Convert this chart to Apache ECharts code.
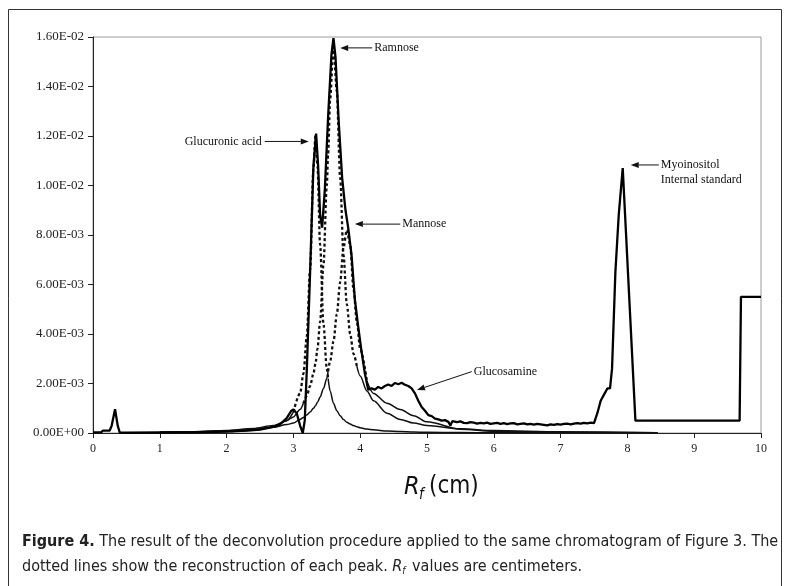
<!DOCTYPE html>
<html><head><meta charset="utf-8">
<script src="https://cdn.jsdelivr.net/npm/echarts@6/dist/echarts.min.js"></script>
<style>html,body{margin:0;padding:0;background:#fff}#c{width:791px;height:586px}</style>
</head><body><div id="c"></div>
<script>
// ---- data ----
const xTicks = [0,1,2,3,4,5,6,7,8,9,10];
const yTicks = [0,0.002,0.004,0.006,0.008,0.010,0.012,0.014,0.016];

// measured chromatogram  [Rf (cm), signal]
const mainTrace = [
 [0.0,0.00002],[0.12,0.00003],[0.15,0.0001],[0.25,0.0001],[0.28,0.0003],[0.33,0.00096],[0.37,0.0003],[0.40,0.00002],
 [0.5,0.00001],[1.0,0.00002],[1.5,0.00003],[2.0,0.00006],[2.3,0.0001],[2.5,0.00014],[2.7,0.00025],[2.8,0.00035],
 [2.9,0.0006],[2.97,0.0009],[3.0,0.00095],[3.05,0.0008],[3.1,0.0003],[3.14,0.0],[3.17,0.0005],[3.2,0.0025],
 [3.25,0.0065],[3.3,0.0108],[3.34,0.0121],[3.37,0.0108],[3.4,0.0088],[3.43,0.0083],[3.47,0.0098],[3.52,0.0128],
 [3.57,0.0153],[3.6,0.01595],[3.63,0.0152],[3.68,0.0125],[3.73,0.0103],[3.78,0.0090],[3.82,0.0083],[3.87,0.0072],
 [3.92,0.0054],[3.97,0.0043],[4.02,0.0033],[4.07,0.0024],[4.12,0.00175],[4.17,0.0018],[4.22,0.00175],[4.27,0.00186],
 [4.32,0.0018],[4.37,0.0019],[4.42,0.00196],[4.47,0.0019],[4.52,0.00202],[4.57,0.00197],[4.62,0.00203],[4.67,0.00195],
 [4.72,0.0019],[4.77,0.0018],[4.82,0.0016],[4.87,0.0013],[4.92,0.00105],[4.97,0.0009],[5.02,0.00072],[5.07,0.00068],
 [5.12,0.00058],[5.17,0.00055],[5.22,0.0005],[5.27,0.00052],[5.32,0.00045],[5.35,0.0003],[5.38,0.00048],[5.45,0.00044],
 [5.5,0.00047],[5.55,0.00041],[5.6,0.0004],[5.65,0.00044],[5.7,0.00042],[5.75,0.00038],[5.8,0.00041],[5.85,0.00039],
 [5.9,0.00042],[5.95,0.00037],[6.0,0.00039],[6.05,0.00041],[6.1,0.00037],[6.15,0.0004],[6.2,0.00036],[6.25,0.00039],
 [6.3,0.0004],[6.35,0.00035],[6.4,0.00037],[6.45,0.00039],[6.5,0.00035],[6.55,0.00037],[6.6,0.00034],[6.65,0.00037],
 [6.7,0.00035],[6.75,0.00033],[6.8,0.00031],[6.85,0.00035],[6.9,0.00033],[6.95,0.00036],[7.0,0.00034],[7.05,0.00037],
 [7.1,0.00038],[7.15,0.00035],[7.2,0.00038],[7.25,0.0004],[7.3,0.00038],[7.35,0.00041],[7.4,0.00039],[7.45,0.00042],
 [7.5,0.0004],[7.55,0.0008],[7.6,0.0013],[7.65,0.00155],[7.7,0.0018],[7.74,0.0018],[7.77,0.0026],[7.82,0.0065],
 [7.87,0.0088],[7.93,0.0107],[8.12,0.0005],[9.68,0.0005],[9.7,0.0055],[10.0,0.0055]
];

// reconstructed peaks (shared Rf grid)
const compX = [1.0,1.5,2.0,2.4,2.7,2.9,3.0,3.1,3.15,3.2,3.25,3.3,3.33,3.36,3.4,3.45,3.5,3.52,3.55,3.6,3.65,3.7,3.75,3.8,3.85,3.9,3.95,4.0,4.1,4.2,4.4,4.6,4.8,5.0,5.5,6.0,7.0,8.45];
const glucuronic = [0.00001,0.00002,0.00006,0.00011,0.00024,0.0005,0.00085,0.0016,0.0024,0.0039,0.0066,0.0107,0.0120,0.0108,0.0076,0.0044,0.0026,0.0022,0.0017,0.0012,0.0009,0.0007,0.00055,0.00043,0.00036,0.0003,0.00025,0.00021,0.00016,0.00013,0.00008,0.00006,0.00004,0.00003,0.00002,0.00001,0.00001,0.00001];
const ramnose = [0.00003,0.00005,0.0001,0.00018,0.0003,0.0005,0.00065,0.00095,0.0012,0.0015,0.0019,0.0024,0.0028,0.0034,0.0045,0.0068,0.0100,0.0113,0.0135,0.0157,0.0138,0.0103,0.0072,0.0052,0.0040,0.0032,0.0027,0.0023,0.0017,0.0013,0.0008,0.00055,0.0004,0.0003,0.00017,0.0001,0.00005,0.00001];
const mannose = [0.00003,0.00005,0.00009,0.00015,0.00023,0.00034,0.0004,0.00055,0.00063,0.00073,0.00085,0.001,0.0011,0.00124,0.00145,0.0018,0.0022,0.0025,0.0029,0.0037,0.0048,0.0061,0.0075,0.0082,0.0076,0.0058,0.0045,0.0034,0.0021,0.0016,0.0012,0.00095,0.0007,0.00045,0.00015,0.00007,0.00002,0.00001];

// annotation labels and where their arrows point (data coords)
const notes = [
 {text:['Ramnose'], head:[3.70,0.01556], tail:[4.18,0.01556], align:'left'},
 {text:['Glucuronic acid'], head:[3.23,0.01178], tail:[2.57,0.01178], align:'right'},
 {text:['Mannose'], head:[3.92,0.00844], tail:[4.60,0.00844], align:'left'},
 {text:['Glucosamine'], head:[4.85,0.00174], tail:[5.67,0.00248], align:'left'},
 {text:['Myoinositol','Internal standard'], head:[8.05,0.01083], tail:[8.47,0.01083], align:'left'}
];

// ---- styling ----
const SERIF = '"Liberation Serif","Times New Roman",serif';
const NARROW = '"Liberation Sans Narrow","DejaVu Sans Condensed","Liberation Sans",sans-serif';
const cuts = {glucuronic:[3.0,3.52], ramnose:[3.15,3.95], mannose:[3.52,4.1]};

function yFmt(v){
  if (Math.abs(v) < 1e-12) return '0.00E+00';
  const e = Math.floor(Math.log10(v) + 1e-9);
  const m = v / Math.pow(10, e);
  return m.toFixed(2) + 'E' + (e < 0 ? '-' : '+') + String(Math.abs(e)).padStart(2, '0');
}
function compSeries(vals, cut){
  const pts = compX.map((x,i)=>[x, vals[i]]);
  const left = pts.filter(p=>p[0] <= cut[0]);
  const core = pts.filter(p=>p[0] >= cut[0] && p[0] <= cut[1]);
  const right = pts.filter(p=>p[0] >= cut[1]);
  const base = {type:'line', symbol:'none', silent:true, smooth:0.3, smoothMonotone:'x', z:2};
  return [
    Object.assign({}, base, {data:left, lineStyle:{color:'#111', width:1.5}}),
    Object.assign({}, base, {data:core, lineStyle:{color:'#111', width:2.3, type:[3,2.5]}}),
    Object.assign({}, base, {data:right, lineStyle:{color:'#111', width:1.5}})
  ];
}

const chart = echarts.init(document.getElementById('c'), null, {renderer:'canvas'});
const series = [].concat(
  compSeries(glucuronic, cuts.glucuronic),
  compSeries(ramnose, cuts.ramnose),
  compSeries(mannose, cuts.mannose),
  [{type:'line', symbol:'none', silent:true, data:mainTrace, z:3, lineStyle:{color:'#000', width:2.3}}]
);

chart.setOption({
  animation:false,
  backgroundColor:'#fff',
  grid:{left:93, right:30, top:37, bottom:153, show:true, borderColor:'#9a9a9a', borderWidth:1},
  xAxis:{type:'value', min:xTicks[0], max:xTicks[xTicks.length-1], interval:1,
    axisLine:{onZero:false, lineStyle:{color:'#222', width:1}},
    axisTick:{show:true, inside:false, length:5, lineStyle:{color:'#222'}},
    axisLabel:{fontFamily:SERIF, fontSize:12, color:'#222', margin:10},
    splitLine:{show:false}},
  yAxis:{type:'value', min:yTicks[0], max:yTicks[yTicks.length-1], interval:0.002,
    axisLine:{show:true, lineStyle:{color:'#222', width:1}},
    axisTick:{show:true, inside:false, length:5, lineStyle:{color:'#222'}},
    axisLabel:{fontFamily:SERIF, fontSize:13, color:'#222', margin:9, formatter:yFmt},
    splitLine:{show:false}},
  series: series
});

// annotations + frame + titles
const g = [];
g.push({type:'rect', shape:{x:8.5, y:9.5, width:773, height:700}, style:{fill:'none', stroke:'#333', lineWidth:1}, silent:true});
notes.forEach(n=>{
  const h = chart.convertToPixel({gridIndex:0}, n.head);
  const t = chart.convertToPixel({gridIndex:0}, n.tail);
  const dx = h[0]-t[0], dy = h[1]-t[1], L = Math.hypot(dx,dy), ux = dx/L, uy = dy/L;
  const bx = h[0]-ux*8, by = h[1]-uy*8;
  g.push({type:'line', shape:{x1:t[0], y1:t[1], x2:bx, y2:by}, style:{stroke:'#111', lineWidth:1}, silent:true});
  g.push({type:'polygon', shape:{points:[[h[0],h[1]],[bx-uy*3,by+ux*3],[bx+uy*3,by-ux*3]]}, style:{fill:'#111'}, silent:true});
  n.text.forEach((s,i)=>{
    g.push({type:'text', x: n.align==='left' ? t[0]+2 : t[0]-3, y: t[1] + i*15,
      style:{text:s, font:'12px '+SERIF, fill:'#111', align:n.align, verticalAlign:'middle'}, silent:true});
  });
});
// axis title  R_f (cm)
g.push({type:'text', x:404, y:487, style:{text:'R', font:'italic 25px '+NARROW, fill:'#111', verticalAlign:'middle'}});
g.push({type:'text', x:419, y:495, style:{text:'f', font:'italic 15px '+NARROW, fill:'#111', verticalAlign:'middle'}});
g.push({type:'text', x:429, y:487, style:{text:'(cm)', font:'24px '+NARROW, fill:'#111', verticalAlign:'middle'}});
// caption
g.push({type:'text', x:22, y:542, style:{
  text:'{b|Figure 4.} The result of the deconvolution procedure applied to the same chromatogram of Figure 3. The',
  font:'16px '+NARROW, fill:'#222', verticalAlign:'middle',
  rich:{b:{fontWeight:'bold', fontSize:16, fontFamily:NARROW, fill:'#222'}}}});
g.push({type:'text', x:22, y:567, style:{
  text:'dotted lines show the reconstruction of each peak. {i|R}{s|f} values are centimeters.',
  font:'16px '+NARROW, fill:'#222', verticalAlign:'middle',
  rich:{i:{fontStyle:'italic', fontSize:16, fontFamily:NARROW}, s:{fontStyle:'italic', fontSize:10, fontFamily:NARROW, padding:[8,2,0,0]}}}});
chart.setOption({graphic:g});
</script>
</body></html>
